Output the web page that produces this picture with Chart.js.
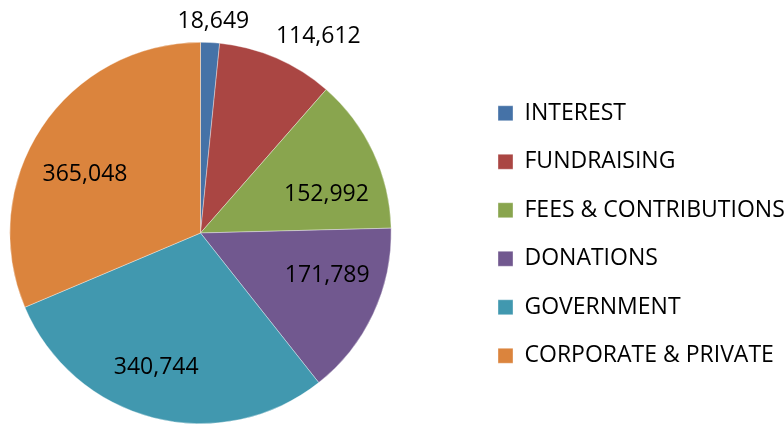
<!DOCTYPE html>
<html>
<head>
<meta charset="utf-8">
<script src="https://cdn.jsdelivr.net/npm/chart.js@4.4.1/dist/chart.umd.min.js"></script>
<style>
  html, body { margin: 0; padding: 0; background: #fff; }
  #wrap { width: 784px; height: 424px; position: relative; }
</style>
</head>
<body>
<div id="wrap"><canvas id="pieChart" width="784" height="424"></canvas></div>
<script>
// data
var categories = ["INTEREST", "FUNDRAISING", "FEES & CONTRIBUTIONS", "DONATIONS", "GOVERNMENT", "CORPORATE & PRIVATE"];
var amounts = [18649, 114612, 152992, 171789, 340744, 365048];
var sliceColors = ["#4572A7", "#AA4643", "#89A54E", "#71588F", "#4198AF", "#DB843D"];

var FONT = "Open Sans";

// where each value label sits: radius factor and angle nudge (deg) from slice middle
var labelPlace = [
  { r: 1.11, a: 0.6 },
  { r: 1.20, a: 7.5 },
  { r: 0.69, a: 8.3 },
  { r: 0.70, a: -6.7 },
  { r: 0.74, a: 3.9 },
  { r: 0.68, a: -6.5 }
];

var valueLabels = {
  id: "valueLabels",
  afterDatasetsDraw: function (chart) {
    var ctx = chart.ctx;
    var meta = chart.getDatasetMeta(0);
    ctx.save();
    ctx.font = "23px '" + FONT + "'";
    ctx.fillStyle = "#000";
    ctx.textAlign = "center";
    ctx.textBaseline = "middle";
    meta.data.forEach(function (arc, i) {
      var p = arc.getProps(["x", "y", "startAngle", "endAngle", "outerRadius"], true);
      var mid = (p.startAngle + p.endAngle) / 2 + labelPlace[i].a * Math.PI / 180;
      var rr = p.outerRadius * labelPlace[i].r;
      var v = chart.data.datasets[0].data[i];
      ctx.fillText(v.toLocaleString("en-US"), p.x + Math.cos(mid) * rr, p.y + Math.sin(mid) * rr);
    });
    ctx.restore();
  }
};

// put the pie and the legend where the original has them
var placePie = {
  id: "placePie",
  afterLayout: function (chart) {
    var a = chart.chartArea;
    a.left = 9.5; a.right = 391.5; a.top = 42; a.bottom = 424;
    a.width = a.right - a.left; a.height = a.bottom - a.top;
    var lg = chart.legend;
    var dx = 498 - (lg.left + lg.options.labels.padding);
    lg.left += dx; lg.right += dx;
    lg.top += 1.5; lg.bottom += 1.5;
  }
};

var ctx = document.getElementById("pieChart").getContext("2d");
var myChart = new Chart(ctx, {
  type: "pie",
  data: {
    labels: categories,
    datasets: [
      {
        data: amounts,
        backgroundColor: sliceColors,
        borderColor: "rgba(255,255,255,0.6)",
        borderWidth: 0.6,
      },
    ],
  },
  options: {
    responsive: false,
    animation: false,
    layout: { padding: { top: 42, left: 9, right: 0, bottom: 0 } },
    plugins: {
      tooltip: { enabled: false },
      legend: {
        position: "right",
        align: "center",
        labels: {
          boxWidth: 15,
          boxHeight: 15,
          padding: 25.5,
          color: "#000",
          font: { family: FONT, size: 23 },
        },
      },
    },
  },
  plugins: [placePie, valueLabels],
});
</script>
</body>
</html>
